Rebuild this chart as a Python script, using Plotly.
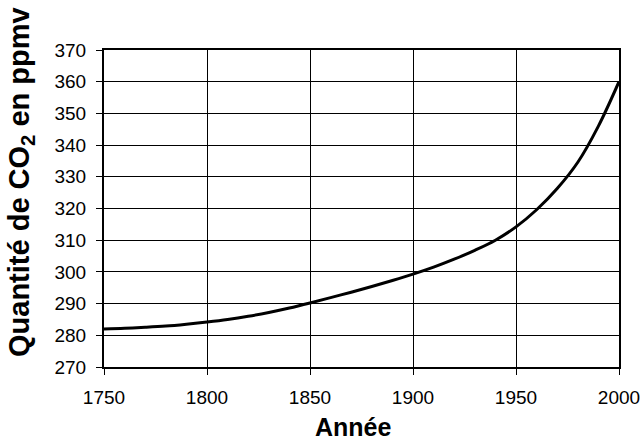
import plotly.graph_objects as go

# Atmospheric CO2 concentration (ppmv) by decade
years = [1750, 1760, 1770, 1780, 1790, 1800, 1810, 1820, 1830, 1840,
         1850, 1860, 1870, 1880, 1890, 1900, 1910, 1920, 1930, 1940,
         1950, 1960, 1970, 1980, 1990, 2000]
co2 = [282.0, 282.2, 282.5, 282.9, 283.5, 284.2, 285.0, 286.0, 287.2, 288.6,
       290.2, 291.9, 293.6, 295.4, 297.3, 299.3, 301.5, 304.0, 306.8, 310.0,
       314.2, 319.6, 326.3, 334.6, 346.0, 360.0]

x_ticks = [1750, 1800, 1850, 1900, 1950, 2000]
y_ticks = list(range(270, 371, 10))

FONT = "Liberation Sans, Arial, sans-serif"

fig = go.Figure()
fig.add_trace(go.Scatter(
    x=years, y=co2, mode="lines",
    line=dict(color="black", width=3, shape="spline", smoothing=1.0),
    hoverinfo="x+y", showlegend=False,
))

fig.update_layout(
    width=640, height=441,
    margin=dict(l=104, r=21, t=50, b=74),
    paper_bgcolor="white", plot_bgcolor="white",
    font=dict(family=FONT, color="black", size=19),
    xaxis=dict(
        range=[1750, 2000], tickvals=x_ticks, ticks="outside", ticklen=6,
        tickcolor="black", tickwidth=1,
        showgrid=True, gridcolor="black", gridwidth=1,
        showline=True, linecolor="black", linewidth=2, mirror=True,
        zeroline=False, tickfont=dict(size=19), ticklabelstandoff=6,
        ticklabeloverflow="allow", automargin=False,
    ),
    yaxis=dict(
        range=[270, 370], tickvals=y_ticks, ticks="outside", ticklen=6,
        tickcolor="black", tickwidth=1,
        showgrid=True, gridcolor="black", gridwidth=1,
        showline=True, linecolor="black", linewidth=2, mirror=True,
        zeroline=False, tickfont=dict(size=19), ticklabelstandoff=6,
        automargin=False,
    ),
    annotations=[
        dict(text="<b>Année</b>", xref="paper", yref="paper",
             x=(353 - 104) / (640 - 104 - 21), y=-(427 - 367) / (441 - 50 - 74),
             xanchor="center", yanchor="middle", showarrow=False,
             font=dict(size=25, family=FONT)),
        dict(text="<b>Quantité de CO<sub>2</sub> en ppmv</b>", xref="paper", yref="paper",
             x=-(104 - 21) / (640 - 104 - 21), y=(367 - 182) / (441 - 50 - 74),
             xanchor="center", yanchor="middle", textangle=-90, showarrow=False,
             font=dict(size=29, family=FONT)),
    ],
)

fig.write_html("out.html")
